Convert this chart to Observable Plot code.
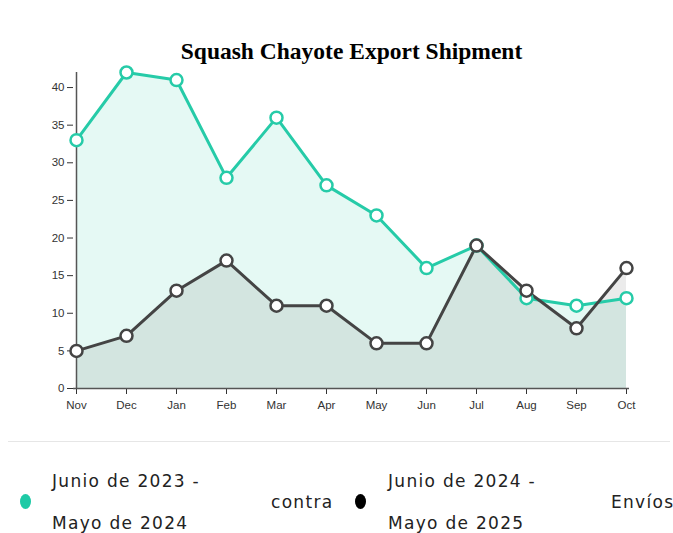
<!DOCTYPE html>
<html><head><meta charset="utf-8">
<script src="https://cdn.jsdelivr.net/npm/d3@7"></script>
<script src="https://cdn.jsdelivr.net/npm/@observablehq/plot@0.6"></script>
<style>
body{margin:0;background:#fff;width:673px;height:533px;overflow:hidden;position:relative;font-family:"DejaVu Sans","Open Sans",sans-serif;}
#chart{position:absolute;left:0;top:0;}
#hr{position:absolute;left:8px;top:441px;width:662px;height:1px;background:#e6e6e6;}
.lg{position:absolute;font-size:17px;color:#222;line-height:42px;white-space:nowrap;letter-spacing:1.3px;}
.dot{position:absolute;width:11px;height:15px;border-radius:50%;}
</style></head><body>
<div id="chart"></div>
<div id="hr"></div>
<div class="dot" style="left:20px;top:494px;background:#1ecaa6"></div>
<div class="lg" style="left:52px;top:460px">Junio de 2023 -<br>Mayo de 2024</div>
<div class="lg" style="left:271px;top:481px">contra</div>
<div class="dot" style="left:355px;top:494px;background:#000"></div>
<div class="lg" style="left:388px;top:460px">Junio de 2024 -<br>Mayo de 2025</div>
<div class="lg" style="left:611px;top:481px">Envíos</div>
<script>
const months = ["Nov","Dec","Jan","Feb","Mar","Apr","May","Jun","Jul","Aug","Sep","Oct"];
const prev = [33,42,41,28,36,27,23,16,19,12,11,12];
const curr = [5,7,13,17,11,11,6,6,19,13,8,16];
const yTicks = [0,5,10,15,20,25,30,35,40];
const title = "Squash Chayote Export Shipment";

const A = months.map((m,i)=>({m, v:prev[i]}));
const B = months.map((m,i)=>({m, v:curr[i]}));
const green = "#26cba8", dark = "#444444";

const plot = Plot.plot({
  width: 673, height: 425,
  marginLeft: 73, marginRight: 44, marginTop: 72, marginBottom: 37,
  style: {fontFamily: "Liberation Sans, Arial, sans-serif", fontSize: "11.5px", color: "#333"},
  x: {type: "point", domain: months, label: null, padding: 0},
  y: {domain: [0, 42], ticks: yTicks, label: null},
  marks: [
    Plot.areaY(A, {x: "m", y: "v", fill: "#e5f9f4"}),
    Plot.areaY(B, {x: "m", y: "v", fill: "rgba(0,0,0,0.08)"}),
    Plot.axisY({ticks: yTicks, tickSize: 6, tickPadding: 3}),
    Plot.axisX({tickSize: 6, tickPadding: 6}),
    Plot.ruleX([months[0]], {y1: 0, y2: 42, stroke: "#555", strokeWidth: 1.5}),
    Plot.ruleY([0], {stroke: "#555", strokeWidth: 1.5}),
    Plot.lineY(A, {x: "m", y: "v", stroke: green, strokeWidth: 3}),
    Plot.lineY(B, {x: "m", y: "v", stroke: dark, strokeWidth: 3}),
    Plot.dot(A, {x: "m", y: "v", r: 6, fill: "white", stroke: green, strokeWidth: 2.5}),
    Plot.dot(B, {x: "m", y: "v", r: 6, fill: "white", stroke: dark, strokeWidth: 2.5}),
    Plot.text([title], {frameAnchor: "top", dy: -30, text: d => d, fontSize: 23.5, fontWeight: "bold", fontFamily: "Liberation Serif, Times New Roman, serif", fill: "#000"})
  ]
});
document.getElementById("chart").appendChild(plot);
</script>
</body></html>
